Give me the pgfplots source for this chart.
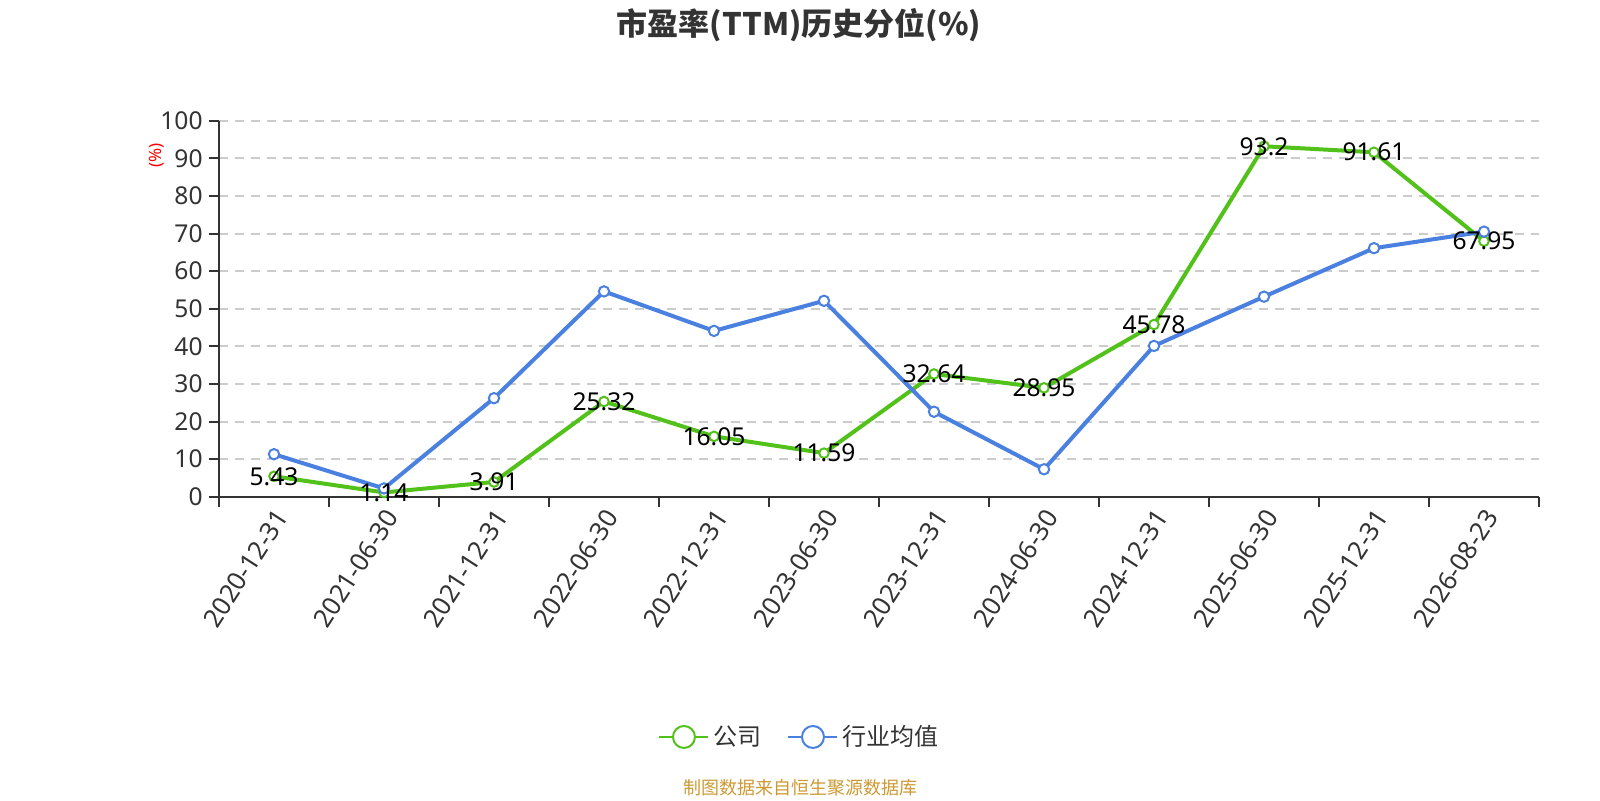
\documentclass[border=0pt]{standalone}
\usepackage{fontspec}
\setmainfont{Noto Sans}
\newfontfamily\cjk{Noto Sans CJK SC}
\usepackage{pgfplots}
\pgfplotsset{compat=1.18}
\definecolor{cgreen}{RGB}{82,194,26}
\definecolor{cblue}{RGB}{74,128,224}
\definecolor{caxis}{RGB}{51,51,51}
\definecolor{cgrid}{RGB}{204,204,204}
\definecolor{csrc}{RGB}{204,153,51}
\begin{document}
\begin{tikzpicture}[x=1pt,y=1pt]
\useasboundingbox (0pt,0pt) rectangle (800pt,400pt);
\begin{axis}[
  at={(109.5pt,151.65pt)}, anchor=south west,
  scale only axis, width=660pt, height=188pt,
  xmin=-0.5, xmax=11.5, ymin=0, ymax=100,
  axis x line=bottom, axis y line=left,
  axis line style={caxis, line width=1pt, -},
  xtick={0,...,11},
  xticklabels={2020-12-31,2021-06-30,2021-12-31,2022-06-30,2022-12-31,2023-06-30,2023-12-31,2024-06-30,2024-12-31,2025-06-30,2025-12-31,2026-08-23},
  minor xtick={-0.5,0.5,...,11.5},
  major x tick style={draw=none},
  minor x tick style={caxis, line width=1pt},
  minor tick length=5pt,
  ytick={0,10,...,100},
  major y tick style={caxis, line width=1pt},
  major tick length=5pt,
  tick align=outside,
  xticklabel style={rotate=57, anchor=east, inner sep=0pt, font=\fontsize{12.8}{15}\selectfont, text=caxis, yshift=-5pt},
  yticklabel style={anchor=east, inner sep=0pt, font=\fontsize{12.3}{14}\selectfont, text=caxis, xshift=-3pt},
  /pgf/number format/assume math mode=true,
  ymajorgrids,
  major grid style={cgrid, line width=1pt, dash pattern=on 4.5pt off 3.5pt},
  clip=false,
  legend style={at={(0.4405,-0.639)}, anchor=center, draw=none, fill=none,
    font=\cjk\fontsize{12}{14}\selectfont, text=caxis, inner sep=0pt,
    /tikz/every even column/.append style={column sep=11pt}},
  legend columns=2,
  legend image code/.code={
    \draw[#1, line width=1pt, mark=none] (0pt,0pt) -- (24.5pt,0pt);
    \draw[#1, line width=1pt, fill=white, mark=none] (12.25pt,0pt) circle (5.5pt);
  },
]
\addplot[cgreen, line width=2pt, mark=*, mark size=2.4pt, mark options={fill=white, line width=1pt}]
  coordinates {(0,5.43) (1,1.14) (2,3.91) (3,25.32) (4,16.05) (5,11.59) (6,32.64) (7,28.95) (8,45.78) (9,93.2) (10,91.61) (11,67.95)};
\addlegendentry{公司}
\addplot[cblue, line width=2pt, mark=*, mark size=2.6pt, mark options={fill=white, line width=1pt}]
  coordinates {(0,11.3) (1,2.2) (2,26.2) (3,54.6) (4,44.1) (5,52.1) (6,22.6) (7,7.3) (8,40.1) (9,53.2) (10,66.1) (11,70.5)};
\addlegendentry{行业均值}
\addplot[draw=none, forget plot, point meta=explicit symbolic,
  nodes near coords, nodes near coords align={center},
  every node near coord/.append style={anchor=center, inner sep=0pt, font=\fontsize{12.3}{14}\selectfont, text=black}]
  coordinates {(0,5.43) [5.43] (1,1.14) [1.14] (2,3.91) [3.91] (3,25.32) [25.32] (4,16.05) [16.05] (5,11.59) [11.59] (6,32.64) [32.64] (7,28.95) [28.95] (8,45.78) [45.78] (9,93.2) [93.2] (10,91.61) [91.61] (11,67.95) [67.95]};
\end{axis}
\node[rotate=90, text=red, font=\fontsize{8.5}{10}\selectfont, inner sep=0pt] at (78.3pt,322.2pt) {(\%)};
\node[text=caxis, font=\cjk\bfseries\fontsize{15.5}{18}\selectfont, inner sep=0pt] at (399.5pt,387.5pt) {市盈率(TTM)历史分位(\%)};
\node[text=csrc, font=\cjk\fontsize{9}{11}\selectfont, inner sep=0pt] at (400pt,6pt) {制图数据来自恒生聚源数据库};
\end{tikzpicture}
\end{document}
